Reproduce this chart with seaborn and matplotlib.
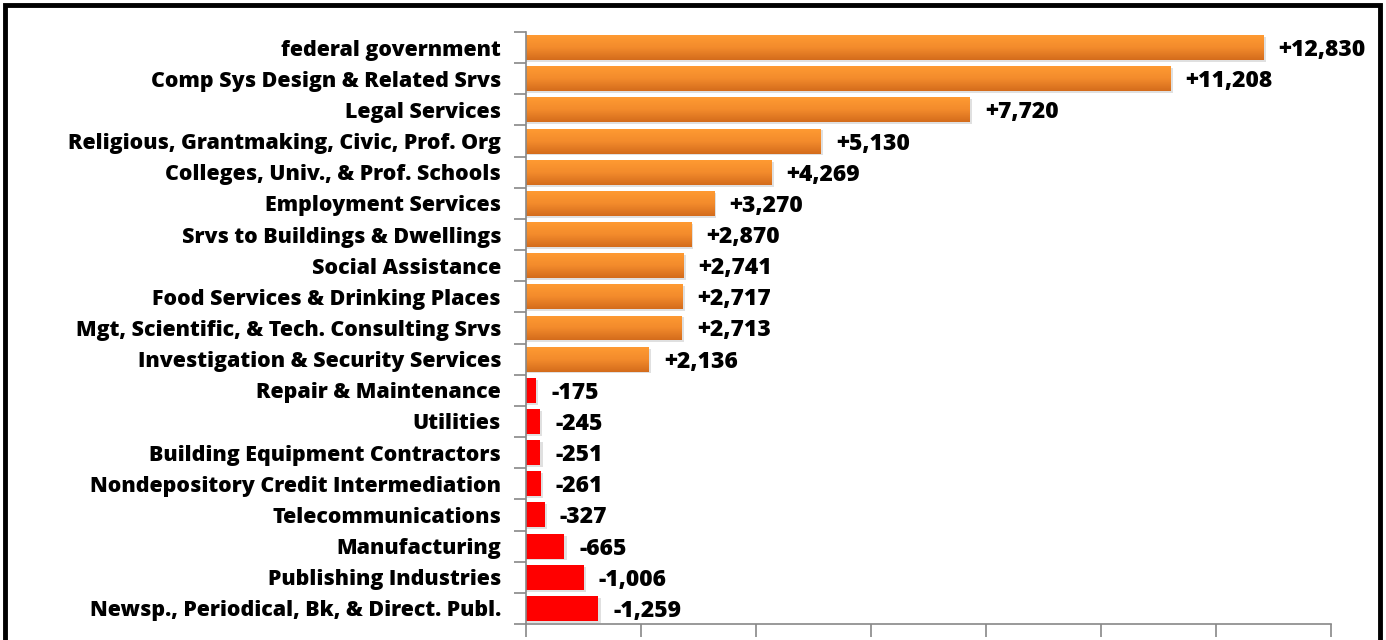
import numpy as np
import pandas as pd
import matplotlib
matplotlib.use("Agg")
import matplotlib.pyplot as plt
import seaborn as sns
from matplotlib.patches import Rectangle
from matplotlib.colors import LinearSegmentedColormap

industries = [
    "federal government",
    "Comp Sys Design & Related Srvs",
    "Legal Services",
    "Religious, Grantmaking, Civic, Prof. Org",
    "Colleges, Univ., & Prof. Schools",
    "Employment Services",
    "Srvs to Buildings & Dwellings",
    "Social Assistance",
    "Food Services & Drinking Places",
    "Mgt, Scientific, & Tech. Consulting Srvs",
    "Investigation & Security Services",
    "Repair & Maintenance",
    "Utilities",
    "Building Equipment Contractors",
    "Nondepository Credit Intermediation",
    "Telecommunications",
    "Manufacturing",
    "Publishing Industries",
    "Newsp., Periodical, Bk, & Direct. Publ.",
]
change = [12830, 11208, 7720, 5130, 4269, 3270, 2870, 2741, 2717, 2713, 2136,
          -175, -245, -251, -261, -327, -665, -1006, -1259]
x_ticks = list(range(0, 14001, 2000))

df = pd.DataFrame({
    "industry": industries,
    "change": change,
    "size": np.abs(change),
    "direction": ["gain" if v > 0 else "loss" for v in change],
})

sns.set_theme(style="white")
plt.rcParams["font.family"] = ["Open Sans", "DejaVu Sans"]

fig = plt.figure(figsize=(13.86, 6.4), dpi=100)
ax = fig.add_axes([526 / 1386, 1 - 624 / 640, (1331 - 526) / 1386, (624 - 32) / 640])

palette = {"gain": "#F38B2C", "loss": "#FF0000"}
sns.barplot(data=df, x="size", y="industry", hue="direction", palette=palette,
            orient="h", width=0.8, dodge=False, legend=False, ax=ax,
            saturation=1, linewidth=0)

# gradient shading and soft shadow on the bars
orange = LinearSegmentedColormap.from_list("og", ["#FF9A32", "#F38B2C", "#D46C1C"])
grad = np.linspace(0, 1, 64).reshape(-1, 1)
for patch in list(ax.patches):
    x0, y0 = patch.get_x(), patch.get_y()
    w, h = patch.get_width(), patch.get_height()
    if w <= 0:
        continue
    shadow = Rectangle((x0, y0 + 0.06), w + 40, h, facecolor="#BBBBBB", alpha=0.45,
                       linewidth=0, zorder=patch.get_zorder() - 0.5)
    ax.add_patch(shadow)
    r, g, b, _ = patch.get_facecolor()
    if r > 0.9 and g < 0.2:
        continue
    im = ax.imshow(grad, cmap=orange, aspect="auto", extent=(x0, x0 + w, y0 + h, y0),
                   zorder=patch.get_zorder() + 0.1, interpolation="bilinear")
    im.set_clip_path(patch)

# value labels
for i, v in enumerate(change):
    txt = f"+{v:,}" if v > 0 else f"-{abs(v):,}"
    ax.text(abs(v) + 260, i + 0.08, txt, va="center", ha="left",
            fontsize=16.5, fontweight=800, color="#000000")

ax.set_xlim(0, 14000)
ax.set_ylim(18.5, -0.5)
ax.set_xticks(x_ticks)
ax.set_xticklabels([])
ax.set_xlabel("")
ax.set_ylabel("")
ax.tick_params(axis="y", which="major", length=0, pad=18, labelsize=15.4)
for lab in ax.get_yticklabels():
    lab.set_fontweight(800)
    lab.set_color("#000000")
ax.set_yticks(np.arange(-0.5, 19, 1), minor=True)
ax.tick_params(axis="y", which="minor", length=9, width=1.2, color="#888888", left=True)
ax.tick_params(axis="x", which="major", length=9, width=1.2, color="#888888", bottom=True)

for side in ["top", "right"]:
    ax.spines[side].set_visible(False)
for side in ["left", "bottom"]:
    ax.spines[side].set_color("#888888")
    ax.spines[side].set_linewidth(1.2)

# outer frame
fig.patches.append(Rectangle((5 / 1386, -0.1), 1375 / 1386, 1.1 - 5 / 640,
                             transform=fig.transFigure, fill=False,
                             edgecolor="#000000", linewidth=3.5))

fig.savefig("out.png", dpi=100)
